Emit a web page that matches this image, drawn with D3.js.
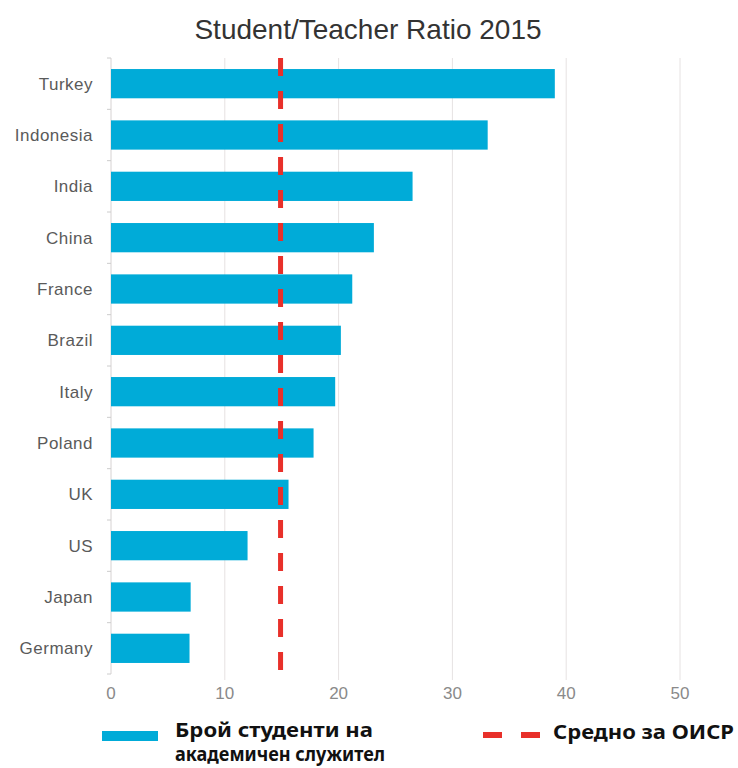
<!DOCTYPE html>
<html>
<head>
<meta charset="utf-8">
<script src="https://cdn.jsdelivr.net/npm/d3@7"></script>
<style>
  body { margin: 0; background: #fff; }
</style>
</head>
<body>
<div id="chart"></div>
<script>
// data
const countries = ["Turkey", "Indonesia", "India", "China", "France", "Brazil",
                   "Italy", "Poland", "UK", "US", "Japan", "Germany"];
const ratios = [39.0, 33.1, 26.5, 23.1, 21.2, 20.2, 19.7, 17.8, 15.6, 12.0, 7.0, 6.9];
const oecdAvg = 14.9;
const xTicks = [0, 10, 20, 30, 40, 50];
const titleText = "Student/Teacher Ratio 2015";
const legendBars = ["Брой студенти на", "академичен служител"];
const legendLine = "Средно за ОИСР";

const W = 738, H = 768;
const margin = {top: 58, right: 58, bottom: 96, left: 111};

const svg = d3.select("#chart").append("svg")
    .attr("width", W).attr("height", H);

const x = d3.scaleLinear()
    .domain([0, 50])
    .range([margin.left, margin.left + 569]);

const y = d3.scaleBand()
    .domain(countries)
    .range([margin.top, H - margin.bottom + 2])
    .paddingInner(0.43)
    .paddingOuter(0.215);

const sans = "'Liberation Sans', Arial, sans-serif";

// title
svg.append("text")
    .attr("x", 368).attr("y", 39)
    .attr("text-anchor", "middle")
    .style("font-family", sans)
    .style("font-size", "28px")
    .attr("fill", "#333")
    .text(titleText);

// grid lines
svg.append("g").selectAll("line")
    .data(xTicks.slice(1))
    .join("line")
    .attr("x1", d => x(d)).attr("x2", d => x(d))
    .attr("y1", y.range()[0]).attr("y2", y.range()[1] + 6)
    .attr("stroke", "#e6e2e2").attr("stroke-width", 1);

// left axis line + small ticks between bands
svg.append("line")
    .attr("x1", x(0)).attr("x2", x(0))
    .attr("y1", y.range()[0]).attr("y2", y.range()[1])
    .attr("stroke", "#d6d2d2");
const step = y.step();
svg.append("g").selectAll("line")
    .data(d3.range(countries.length + 1))
    .join("line")
    .attr("x1", x(0) - 4).attr("x2", x(0))
    .attr("y1", i => y.range()[0] + i * step)
    .attr("y2", i => y.range()[0] + i * step)
    .attr("stroke", "#ccc");

// bars
svg.append("g").selectAll("rect")
    .data(countries)
    .join("rect")
    .attr("x", x(0))
    .attr("y", d => y(d))
    .attr("width", (d, i) => x(ratios[i]) - x(0))
    .attr("height", y.bandwidth())
    .attr("fill", "#00abd8");

// category labels
svg.append("g").selectAll("text")
    .data(countries)
    .join("text")
    .attr("x", 93)
    .attr("y", d => y(d) + y.bandwidth() / 2)
    .attr("dy", "0.35em")
    .attr("text-anchor", "end")
    .style("font-family", sans)
    .style("font-size", "17px")
    .style("letter-spacing", "0.5px")
    .attr("fill", "#5a5a5a")
    .text(d => d);

// x tick labels
svg.append("g").selectAll("text")
    .data(xTicks)
    .join("text")
    .attr("x", d => x(d))
    .attr("y", 699)
    .attr("text-anchor", "middle")
    .style("font-family", sans)
    .style("font-size", "17px")
    .attr("fill", "#8a8a8a")
    .text(d => d);

// OECD average line
svg.append("line")
    .attr("x1", x(oecdAvg)).attr("x2", x(oecdAvg))
    .attr("y1", 58).attr("y2", 673)
    .attr("stroke", "#e8302a")
    .attr("stroke-width", 5)
    .attr("stroke-dasharray", "18,15");

// legend
const legendFont = "'Noto Sans', 'Open Sans', sans-serif";
const legendWidths = [198, 210];
svg.append("rect")
    .attr("x", 102).attr("y", 731)
    .attr("width", 56).attr("height", 10)
    .attr("fill", "#00abd8");
svg.append("g").selectAll("text")
    .data(legendBars)
    .join("text")
    .attr("x", 175)
    .attr("y", (d, i) => 737 + i * 24)
    .attr("textLength", (d, i) => legendWidths[i])
    .attr("lengthAdjust", "spacingAndGlyphs")
    .style("font-family", legendFont)
    .style("font-size", "19px")
    .style("font-weight", "bold")
    .attr("fill", "#111")
    .text(d => d);

svg.append("line")
    .attr("x1", 483).attr("x2", 540)
    .attr("y1", 735).attr("y2", 735)
    .attr("stroke", "#e8302a")
    .attr("stroke-width", 6)
    .attr("stroke-dasharray", "19,19");
svg.append("text")
    .attr("x", 553).attr("y", 739)
    .attr("textLength", 181)
    .attr("lengthAdjust", "spacingAndGlyphs")
    .style("font-family", legendFont)
    .style("font-size", "19px")
    .style("font-weight", "bold")
    .attr("fill", "#111")
    .text(legendLine);
</script>
</body>
</html>
